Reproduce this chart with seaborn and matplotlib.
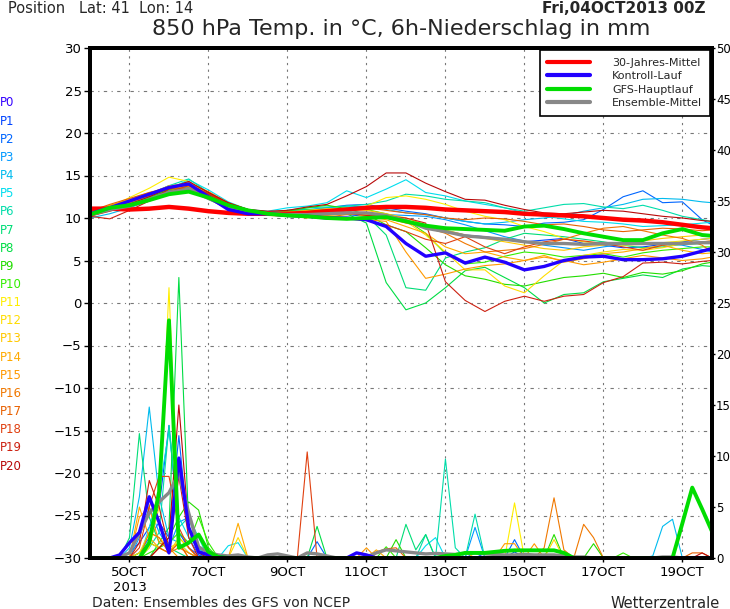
import numpy as np
import pandas as pd
import matplotlib
matplotlib.use("Agg")
import matplotlib.pyplot as plt
import seaborn as sns
from matplotlib.lines import Line2D
from matplotlib import font_manager

# ---------------- data ----------------
HOURS_T = list(range(0, 373, 12)) + [378]          # temperature sampling (hours from 04 Oct 00Z)
HOURS_P = list(range(0, 379, 6))                   # 6h precipitation steps

TICK_HOURS = [24, 72, 120, 168, 216, 264, 312, 360]
TICK_LABELS = ["5OCT\n2013", "7OCT", "9OCT", "11OCT", "13OCT", "15OCT", "17OCT", "19OCT"]

MEMBER_NAMES = ["P%d" % i for i in range(21)]
MEMBER_COLORS = ["#3300ff", "#0044ff", "#0066ff", "#0099ff", "#00bbee", "#00ddee", "#00ddaa",
                 "#00dd77", "#00dd44", "#22dd00", "#33ee00", "#ffee00", "#ffdd00", "#ffc800",
                 "#ffaa00", "#ff9900", "#f07800", "#e86000", "#e04010", "#cc2010", "#b80808"]

CLIMATE = [11.1, 11.1, 11.0, 11.1, 11.3, 11.1, 10.8, 10.6, 10.5, 10.5, 10.5, 10.6, 10.8, 11.0, 11.2,
           11.3, 11.3, 11.2, 11.0, 10.9, 10.8, 10.7, 10.5, 10.4, 10.3, 10.2, 10.0, 9.8, 9.7, 9.5, 9.2, 8.9, 8.8]
CONTROL = [10.5, 11.2, 12.0, 12.8, 13.6, 14.0, 12.5, 11.0, 10.5, 10.5, 10.3, 10.2, 10.0, 10.0, 9.8,
           9.0, 7.0, 5.5, 5.9, 4.7, 5.4, 4.8, 3.9, 4.3, 5.0, 5.4, 5.5, 5.1, 5.1, 5.2, 5.5, 6.1, 6.4]
GFS = [10.4, 11.2, 11.5, 12.1, 12.8, 13.1, 12.4, 11.5, 10.9, 10.5, 10.3, 10.2, 10.0, 9.9, 10.0,
       10.1, 9.6, 9.1, 8.8, 8.7, 8.6, 8.5, 9.0, 9.1, 8.7, 8.2, 7.8, 7.4, 7.4, 8.2, 8.7, 8.0, 7.9]
ENS_MEAN = [10.4, 11.0, 11.4, 12.2, 13.0, 13.4, 12.3, 11.3, 10.8, 10.5, 10.4, 10.4, 10.5, 10.6, 10.6,
            10.3, 9.7, 8.8, 8.4, 7.9, 7.7, 7.5, 7.2, 7.0, 7.0, 6.9, 7.0, 7.0, 7.0, 7.0, 7.0, 7.1, 7.1]

T_P0 = CONTROL
T_P1 = [10.3, 11.0, 11.8, 12.6, 13.6, 14.3, 12.8, 11.4, 10.8, 10.6, 10.4, 10.5, 10.6, 10.4, 10.2,
        10.0, 9.5, 8.8, 8.5, 8.0, 7.8, 7.5, 7.2, 7.4, 7.6, 7.0, 6.8, 6.5, 6.6, 6.9, 7.2, 7.5, 7.6]
T_P2 = [10.5, 11.2, 11.9, 12.8, 13.8, 14.0, 12.5, 11.2, 10.6, 10.4, 10.6, 10.9, 11.2, 11.5, 11.6,
        11.2, 10.8, 10.5, 10.0, 9.6, 9.3, 9.2, 9.0, 9.4, 9.5, 9.8, 11.0, 12.5, 13.2, 11.8, 11.9, 9.8, 9.2]
T_P3 = [10.2, 10.9, 11.6, 12.3, 13.2, 13.6, 12.6, 11.3, 10.7, 10.5, 10.8, 11.0, 10.9, 10.7, 10.5,
        10.4, 10.3, 10.2, 9.8, 9.2, 8.5, 7.8, 7.3, 6.8, 6.5, 6.2, 6.6, 6.9, 7.0, 7.1, 6.8, 6.3, 6.0]
T_P4 = [10.0, 10.5, 11.2, 12.0, 13.0, 13.8, 13.0, 11.6, 10.9, 10.7, 10.9, 11.0, 11.2, 11.4, 11.3,
        11.0, 10.6, 10.4, 10.0, 9.6, 9.3, 9.5, 9.8, 10.0, 10.3, 10.8, 11.2, 11.6, 12.2, 12.3, 12.2, 11.9, 11.8]
T_P5 = [10.3, 10.8, 11.5, 12.3, 13.4, 14.5, 13.3, 11.9, 11.0, 10.8, 11.2, 11.4, 11.8, 13.2, 12.4,
        13.4, 14.5, 13.0, 12.6, 12.0, 11.6, 11.2, 10.6, 10.2, 9.9, 9.6, 9.5, 9.3, 9.0, 9.1, 9.2, 9.4, 9.5]
T_P6 = [10.6, 11.2, 11.8, 12.7, 13.8, 14.6, 13.0, 11.5, 10.8, 10.6, 10.9, 11.2, 11.3, 11.4, 11.6,
        12.0, 12.8, 12.6, 12.2, 12.0, 11.8, 11.2, 10.8, 11.2, 11.6, 11.7, 11.3, 11.1, 11.5, 10.9, 10.2, 9.8, 9.6]
T_P7 = [10.4, 11.0, 11.7, 12.5, 13.5, 13.9, 12.4, 11.0, 10.4, 10.3, 10.7, 11.0, 11.0, 10.8, 10.3,
        8.0, 1.8, 1.5, 5.3, 6.0, 6.5, 7.5, 8.2, 8.0, 7.8, 7.5, 7.2, 6.8, 6.5, 6.6, 6.9, 7.0, 7.0]
T_P8 = [10.5, 11.1, 11.9, 12.6, 13.4, 13.7, 12.2, 11.1, 10.6, 10.4, 10.6, 10.9, 11.0, 10.5, 9.4,
        2.4, -0.8, 0.0, 1.8, 3.8, 4.2, 3.0, 1.8, 0.0, 1.0, 1.2, 2.5, 2.9, 3.3, 3.0, 4.0, 4.4, 4.3]
T_P9 = [10.3, 11.0, 11.7, 12.4, 13.3, 13.9, 12.6, 11.3, 10.7, 10.5, 10.8, 11.2, 11.5, 11.1, 10.4,
        9.2, 8.4, 6.5, 4.5, 3.2, 2.8, 2.2, 2.0, 2.5, 3.0, 3.2, 3.5, 3.0, 3.6, 3.4, 3.8, 4.6, 4.8]
T_P10 = [10.6, 11.3, 12.0, 12.9, 13.7, 14.1, 12.7, 11.4, 10.8, 10.6, 10.6, 10.8, 11.0, 11.2, 11.0,
         10.5, 9.8, 8.2, 5.8, 4.6, 4.8, 5.5, 6.0, 5.8, 5.4, 5.6, 5.8, 5.4, 5.9, 6.2, 6.4, 6.6, 6.6]
T_P11 = [10.5, 11.3, 12.4, 13.5, 14.8, 14.3, 12.6, 11.2, 10.7, 10.4, 10.3, 10.4, 10.6, 10.8, 11.4,
         12.4, 12.6, 12.2, 11.6, 10.8, 10.2, 9.8, 9.0, 8.4, 7.6, 7.2, 7.0, 6.8, 6.9, 7.1, 7.3, 7.5, 7.6]
T_P12 = [10.4, 11.0, 11.9, 12.8, 13.8, 14.0, 12.9, 11.5, 10.8, 10.5, 10.2, 10.0, 10.3, 10.5, 10.4,
         10.1, 9.6, 8.0, 6.0, 3.9, 3.9, 2.0, 1.2, 3.2, 5.0, 5.6, 6.0, 6.3, 6.2, 6.5, 7.0, 7.2, 7.3]
T_P13 = [10.3, 11.1, 12.0, 12.9, 13.7, 14.2, 13.0, 11.6, 10.9, 10.6, 10.7, 10.9, 11.1, 11.0, 10.9,
         10.5, 10.0, 9.2, 8.6, 8.0, 7.6, 7.2, 6.8, 6.4, 6.2, 6.6, 6.8, 7.0, 7.3, 7.6, 7.8, 8.0, 8.0]
T_P14 = [10.5, 11.4, 12.2, 13.0, 13.6, 13.8, 12.6, 11.3, 10.7, 10.4, 10.3, 10.5, 10.7, 10.6, 10.2,
         9.8, 9.0, 8.2, 6.6, 5.8, 6.0, 5.4, 5.0, 5.6, 4.8, 5.2, 5.8, 6.0, 6.4, 6.8, 6.2, 5.8, 5.9]
T_P15 = [10.7, 11.5, 12.1, 12.8, 13.5, 13.7, 12.4, 11.1, 10.6, 10.5, 10.6, 10.5, 10.3, 10.0, 9.8,
         9.6, 6.0, 2.9, 3.4, 4.0, 4.4, 4.6, 5.0, 5.4, 5.0, 4.5, 4.8, 5.2, 5.6, 5.3, 5.0, 5.2, 5.4]
T_P16 = [10.6, 11.2, 11.8, 12.6, 13.6, 14.1, 13.1, 11.8, 11.0, 10.6, 10.4, 10.2, 10.1, 10.4, 10.5,
         10.0, 9.4, 8.9, 8.2, 7.0, 6.0, 6.2, 6.4, 6.9, 7.5, 8.2, 8.8, 9.0, 8.5, 8.0, 7.6, 6.8, 6.0]
T_P17 = [10.8, 11.6, 12.3, 13.0, 13.4, 13.5, 12.3, 11.0, 10.5, 10.3, 10.2, 10.4, 10.8, 11.1, 11.2,
         10.9, 10.6, 10.4, 10.0, 9.8, 10.0, 9.9, 9.6, 9.2, 9.3, 9.0, 8.6, 8.4, 8.6, 8.8, 8.7, 8.5, 8.6]
T_P18 = [10.2, 10.8, 11.4, 12.2, 13.1, 13.8, 12.9, 11.7, 11.0, 10.7, 10.5, 10.3, 10.2, 9.9, 9.7,
         9.2, 8.4, 7.5, 7.0, 7.8, 6.6, 5.8, 6.6, 7.2, 7.5, 7.3, 7.0, 6.6, 6.2, 6.8, 7.0, 7.2, 7.3]
T_P19 = [10.2, 9.9, 10.9, 12.0, 13.4, 14.0, 12.8, 11.6, 10.9, 10.6, 10.5, 10.6, 10.8, 10.6, 10.3,
         10.2, 10.0, 9.4, 2.5, 0.3, -1.0, 0.2, 0.8, 0.2, 0.8, 1.0, 2.4, 3.1, 4.7, 4.8, 4.6, 4.9, 5.0]
T_P20 = [10.4, 11.0, 11.6, 12.5, 13.5, 14.3, 13.0, 11.8, 11.0, 10.8, 10.9, 11.3, 11.6, 12.6, 13.7,
         15.3, 15.3, 14.1, 13.1, 12.2, 12.1, 11.5, 11.0, 10.6, 10.5, 10.7, 10.9, 10.8, 10.5, 10.2, 10.0, 9.7, 9.6]

# 6h precipitation (mm), hour -> amount; hours not listed had no precipitation
R_CONTROL = {18: 0.3, 24: 1.5, 30: 2.5, 36: 6.0, 42: 3.5, 48: 0.5, 54: 9.8, 60: 3.0, 66: 0.6, 72: 0.3,
             78: 0.1, 162: 0.5, 168: 0.3}
R_GFS = {36: 1.5, 42: 6.5, 48: 23.3, 54: 1.0, 60: 1.5, 66: 2.3, 72: 0.6, 78: 0.1, 216: 0.2, 222: 0.3,
         228: 0.5, 234: 0.5, 240: 0.5, 246: 0.6, 252: 0.7, 258: 0.75, 264: 0.75, 270: 0.75, 276: 0.75,
         282: 0.75, 288: 0.5, 360: 3.4, 366: 6.9, 372: 4.8, 378: 2.6}
R_MEAN = {18: 0.1, 24: 0.5, 30: 2.5, 36: 4.4, 42: 5.5, 48: 6.4, 54: 8.3, 60: 4.4, 66: 1.1, 72: 0.5,
          78: 0.3, 84: 0.2, 90: 0.3, 96: 0.1, 108: 0.3, 114: 0.4, 120: 0.2, 132: 0.5, 138: 0.4, 144: 0.2,
          168: 0.1, 174: 0.5, 180: 0.8, 186: 0.7, 192: 0.6, 198: 0.5, 204: 0.4, 210: 0.45, 216: 0.4,
          222: 0.35, 228: 0.45, 234: 0.5, 240: 0.4, 246: 0.35, 252: 0.3, 258: 0.3, 264: 0.35, 270: 0.3,
          276: 0.3, 282: 0.3, 288: 0.2, 294: 0.1, 300: 0.1, 348: 0.1, 354: 0.1}
R_P0 = R_CONTROL
R_P1 = {24: 0.5, 30: 1.5, 36: 3.0, 42: 5.0, 48: 13.0, 54: 2.5, 60: 1.0, 66: 0.3, 234: 0.5, 258: 0.6}
R_P2 = {30: 0.5, 36: 2.0, 42: 3.5, 48: 2.0, 54: 12.0, 60: 2.0, 66: 0.3, 138: 1.6, 258: 1.8}
R_P3 = {30: 2.0, 36: 5.0, 42: 2.5, 48: 1.0, 54: 3.5, 60: 4.0, 66: 1.0, 234: 3.0}
R_P4 = {24: 1.0, 30: 6.0, 36: 14.8, 42: 6.0, 48: 2.0, 54: 1.5, 60: 0.5, 342: 0.2, 348: 3.1, 354: 3.8}
R_P5 = {36: 3.0, 42: 6.5, 48: 12.5, 54: 4.0, 60: 2.0, 66: 1.0, 84: 1.2, 90: 1.5, 204: 1.2, 210: 2.0}
R_P6 = {36: 1.0, 42: 2.5, 48: 13.0, 54: 3.0, 60: 4.0, 66: 2.0, 204: 2.3, 216: 9.7, 222: 1.0, 234: 4.3}
R_P7 = {24: 2.0, 30: 12.2, 36: 4.0, 42: 1.5, 48: 1.0, 54: 0.5, 192: 3.3, 198: 0.8, 204: 2.3}
R_P8 = {42: 1.5, 48: 3.0, 54: 27.5, 60: 3.0, 66: 0.5, 138: 3.1}
R_P9 = {30: 0.5, 36: 1.5, 42: 1.0, 48: 2.0, 54: 4.0, 60: 5.5, 66: 4.7, 72: 1.0, 186: 1.8, 282: 2.3, 306: 1.4}
R_P10 = {36: 0.5, 42: 1.0, 48: 1.5, 54: 2.5, 60: 1.5, 66: 4.0, 72: 1.5, 180: 1.1, 324: 0.5}
R_P11 = {36: 1.0, 42: 5.0, 48: 26.5, 54: 2.0, 60: 1.0, 258: 5.4}
R_P12 = {30: 0.5, 36: 2.5, 42: 2.0, 48: 1.0, 54: 1.5, 60: 0.5, 90: 2.0, 282: 1.8}
R_P13 = {36: 1.5, 42: 1.0, 48: 0.5, 54: 2.0, 60: 1.0, 228: 0.6}
R_P14 = {30: 5.0, 36: 2.0, 42: 1.0, 48: 0.5, 54: 1.5, 90: 3.4, 174: 0.8}
R_P15 = {30: 4.0, 36: 5.0, 42: 1.5, 48: 1.0, 168: 1.0, 252: 1.4, 258: 1.4, 270: 1.4}
R_P16 = {36: 2.5, 42: 2.0, 48: 0.5, 54: 1.0, 60: 0.5, 276: 1.0, 282: 5.9, 288: 0.8, 300: 3.3, 306: 2.0}
R_P17 = {42: 1.0, 48: 0.5, 54: 1.5, 174: 0.6, 180: 0.9, 186: 1.0, 366: 0.5, 372: 0.5}
R_P18 = {30: 1.0, 36: 5.0, 42: 8.0, 48: 8.0, 54: 3.0, 60: 1.0, 132: 10.4}
R_P19 = {30: 1.5, 36: 7.6, 42: 5.0, 48: 1.0, 54: 8.0, 60: 2.0}
R_P20 = {42: 1.0, 48: 2.0, 54: 15.0, 60: 3.0, 66: 0.5, 372: 0.5}

MEMBER_TEMPS = [T_P0, T_P1, T_P2, T_P3, T_P4, T_P5, T_P6, T_P7, T_P8, T_P9, T_P10, T_P11, T_P12,
                T_P13, T_P14, T_P15, T_P16, T_P17, T_P18, T_P19, T_P20]
MEMBER_RAIN = [R_P0, R_P1, R_P2, R_P3, R_P4, R_P5, R_P6, R_P7, R_P8, R_P9, R_P10, R_P11, R_P12,
               R_P13, R_P14, R_P15, R_P16, R_P17, R_P18, R_P19, R_P20]

for arr in MEMBER_TEMPS + [CLIMATE, CONTROL, GFS, ENS_MEAN]:
    assert len(arr) == len(HOURS_T), len(arr)


def rain_series(d):
    return [d.get(h, 0.0) for h in HOURS_P]


# ---------------- figure ----------------
sns.set_theme(style="white")
plt.rcParams["font.family"] = ["DejaVu Sans"]

installed = {f.name for f in font_manager.fontManager.ttflist}
NARROW = "Liberation Sans Narrow" if "Liberation Sans Narrow" in installed else "DejaVu Sans"

W, H = 730, 609
fig = plt.figure(figsize=(W / 100, H / 100), dpi=100)
ax = fig.add_axes([90 / W, 1 - 558 / H, 622 / W, 510 / H])
ax2 = ax.twinx()

# precipitation (right axis)
for d, col in zip(MEMBER_RAIN[1:], MEMBER_COLORS[1:]):
    sns.lineplot(x=HOURS_P, y=rain_series(d), ax=ax2, color=col, linewidth=0.8, legend=False)
sns.lineplot(x=HOURS_P, y=rain_series(R_MEAN), ax=ax2, color="#888888", linewidth=2.4, legend=False)
sns.lineplot(x=HOURS_P, y=rain_series(R_CONTROL), ax=ax2, color="#2200ff", linewidth=2.4, legend=False)
sns.lineplot(x=HOURS_P, y=rain_series(R_GFS), ax=ax2, color="#00dd00", linewidth=2.8, legend=False)

# temperature (left axis)
for vals, col in zip(MEMBER_TEMPS[1:], MEMBER_COLORS[1:]):
    sns.lineplot(x=HOURS_T, y=vals, ax=ax, color=col, linewidth=0.8, legend=False)
sns.lineplot(x=HOURS_T, y=CLIMATE, ax=ax, color="#ff0000", linewidth=3.2, legend=False)
sns.lineplot(x=HOURS_T, y=ENS_MEAN, ax=ax, color="#888888", linewidth=2.4, legend=False)
sns.lineplot(x=HOURS_T, y=CONTROL, ax=ax, color="#2200ff", linewidth=2.4, legend=False)
sns.lineplot(x=HOURS_T, y=GFS, ax=ax, color="#00dd00", linewidth=2.8, legend=False)

ax.set_xlim(0, 378)
ax.set_ylim(-30, 30)
ax2.set_ylim(0, 50)
ax.set_yticks(range(-30, 31, 5))
ax2.set_yticks(range(0, 51, 5))
ax.set_xticks(TICK_HOURS)
ax.set_xticklabels(TICK_LABELS)
ax.set_xlabel("")
ax.set_ylabel("")
ax2.set_ylabel("")

ax.grid(True, axis="y", color="#777777", linestyle=(0, (3, 4, 1, 4)), linewidth=0.8)
ax.grid(True, axis="x", color="#777777", linestyle=(0, (2, 4)), linewidth=0.8)
ax2.grid(False)

for a in (ax, ax2):
    for s in a.spines.values():
        s.set_linewidth(2.8)
        s.set_color("black")
ax.tick_params(axis="y", left=True, length=4, width=1, labelsize=9.5, pad=2, colors="black")
ax.tick_params(axis="x", bottom=True, length=3, width=1, labelsize=9.5, pad=3, colors="black")
ax2.tick_params(axis="y", right=True, length=2.5, width=1, labelsize=8.5, pad=0.5, colors="black")
for lab in ax.get_yticklabels() + ax.get_xticklabels() + ax2.get_yticklabels():
    lab.set_family(NARROW)

handles = [Line2D([], [], color="#ff0000", lw=3.0),
           Line2D([], [], color="#2200ff", lw=3.0),
           Line2D([], [], color="#00dd00", lw=3.0),
           Line2D([], [], color="#888888", lw=3.0)]
labels = ["30-Jahres-Mittel", "Kontroll-Lauf", "GFS-Hauptlauf", "Ensemble-Mittel"]
leg = ax2.legend(handles, labels, loc="upper right", bbox_to_anchor=(1.0, 1.0), fontsize=8,
                 frameon=True, fancybox=False, edgecolor="black", framealpha=1.0,
                 borderaxespad=0.2, handlelength=3.8, handletextpad=2.0, labelspacing=0.3,
                 borderpad=0.7)
leg.get_frame().set_linewidth(1.2)

# member labels on the left
for i, (name, col) in enumerate(zip(MEMBER_NAMES, MEMBER_COLORS)):
    fig.text(0 / W, 1 - (103 + 18.15 * i) / H, name, color=col, fontsize=8.5, va="center", ha="left")

fig.text(8 / W, 1 - 1 / H, "Position   Lat: 41  Lon: 14", fontsize=10.5, va="top", ha="left")
fig.text(706 / W, 1 - 1 / H, "Fri,04OCT2013 00Z", fontsize=11, fontweight="bold", va="top", ha="right")
fig.text(401 / W, 1 - 29 / H, "850 hPa Temp. in °C, 6h-Niederschlag in mm", fontsize=16,
         va="center", ha="center")
fig.text(92 / W, 1 - 603 / H, "Daten: Ensembles des GFS von NCEP", fontsize=10, va="center", ha="left")
fig.text(720 / W, 1 - 603 / H, "Wetterzentrale", fontsize=10.5, va="center", ha="right")

fig.savefig("out.png", dpi=100, facecolor="white")
